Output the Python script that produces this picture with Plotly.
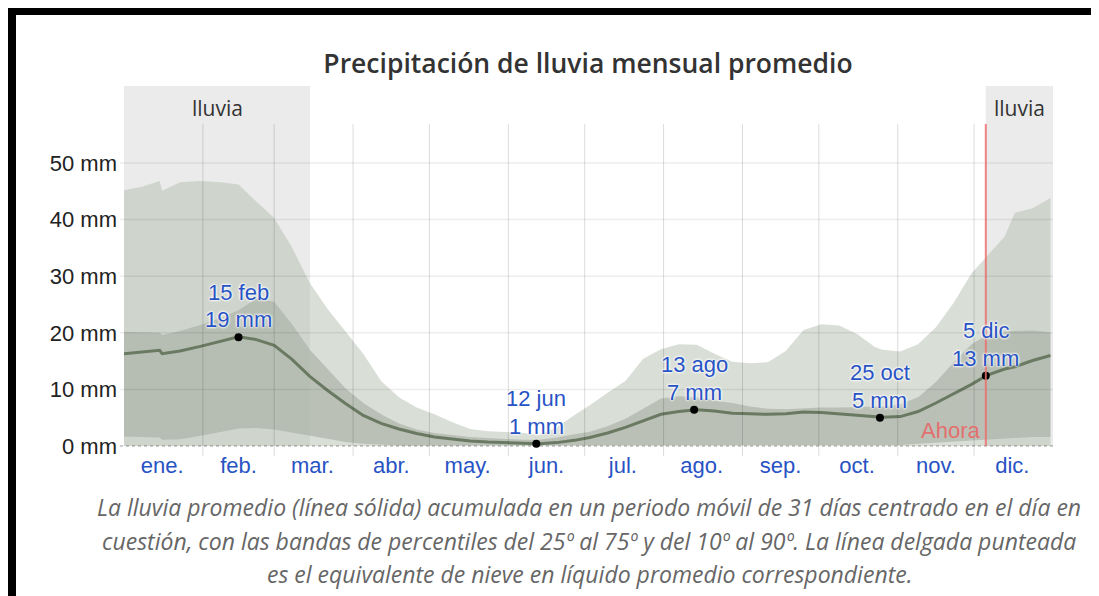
import plotly.graph_objects as go

# ---------------- data ----------------
days = [0, 7, 14, 15, 22, 30, 38, 45, 52, 59, 66, 73, 80, 87, 94, 101, 108, 115, 122,
        129, 136, 143, 150, 157, 163, 170, 177, 183, 190, 197, 204, 211, 218, 225, 232,
        239, 246, 253, 260, 267, 274, 281, 288, 295, 298, 305, 312, 319, 326, 333, 339,
        346, 350, 357, 364]

mean = [16.3, 16.6, 16.9, 16.3, 16.8, 17.6, 18.5, 19.3, 18.8, 17.8, 15.3, 12.3, 9.8, 7.5,
        5.4, 4.0, 3.0, 2.2, 1.6, 1.2, 0.9, 0.7, 0.6, 0.5, 0.4, 0.6, 1.0, 1.5, 2.3, 3.3,
        4.4, 5.6, 6.1, 6.4, 6.2, 5.8, 5.7, 5.6, 5.7, 6.0, 5.9, 5.7, 5.5, 5.2, 5.1, 5.2,
        6.1, 7.6, 9.2, 10.9, 12.5, 13.6, 14.0, 15.1, 16.0]

p90 = [45.2, 45.8, 46.8, 45.1, 46.6, 46.8, 46.6, 46.2, 43.2, 40.3, 35.1, 28.8, 24.2, 20.3,
       16.3, 11.5, 8.6, 6.8, 5.6, 4.2, 3.0, 2.6, 2.4, 2.3, 1.9, 3.3, 5.5, 7.2, 9.4, 11.5,
       15.4, 17.1, 18.0, 17.9, 16.3, 14.9, 14.6, 14.8, 16.8, 20.5, 21.5, 21.3, 19.8, 17.5,
       17.0, 16.7, 18.0, 21.0, 25.3, 30.5, 33.5, 37.0, 41.2, 42.0, 43.8]

p75 = [20.2, 20.1, 20.0, 19.6, 20.3, 21.4, 22.6, 24.0, 26.0, 25.5, 21.5, 17.0, 13.5, 10.2,
       7.6, 5.6, 4.0, 2.9, 2.3, 1.9, 1.6, 1.4, 1.2, 1.1, 1.1, 1.5, 2.1, 2.5, 3.5, 4.8,
       6.6, 8.4, 8.8, 8.6, 8.0, 7.6, 7.0, 6.6, 6.5, 6.7, 6.8, 6.8, 6.9, 7.0, 7.0, 7.4,
       8.6, 11.3, 14.8, 18.0, 19.6, 20.1, 20.3, 20.4, 20.1]

p25 = [1.7, 1.6, 1.5, 1.1, 1.2, 1.8, 2.5, 3.1, 3.2, 2.9, 2.4, 1.8, 1.2, 0.7, 0.4, 0.2,
       0.1, 0.1, 0.1, 0.1, 0.1, 0.1, 0.1, 0.1, 0.1, 0.1, 0.1, 0.1, 0.1, 0.1, 0.1, 0.1,
       0.1, 0.1, 0.1, 0.1, 0.1, 0.1, 0.1, 0.1, 0.1, 0.1, 0.1, 0.1, 0.1, 0.2, 0.4, 0.6,
       0.8, 1.0, 1.1, 1.3, 1.5, 1.6, 1.6]

p10 = [0.0] * len(days)

month_mid_days = [15, 45, 74, 105, 135, 166, 196, 227, 258, 288, 319, 349]
month_labels = ["ene.", "feb.", "mar.", "abr.", "may.", "jun.", "jul.", "ago.",
                "sep.", "oct.", "nov.", "dic."]
month_start_days = [31, 59, 90, 120, 151, 181, 212, 243, 273, 304, 334]
y_ticks = [0, 10, 20, 30, 40, 50]
y_tick_labels = ["0 mm", "10 mm", "20 mm", "30 mm", "40 mm", "50 mm"]

marker_days = [45, 162, 224, 297, 338.6]
marker_vals = [19.2, 0.4, 6.4, 5.0, 12.4]
marker_dates = ["15 feb", "12 jun", "13 ago", "25 oct", "5 dic"]
marker_amounts = ["19 mm", "1 mm", "7 mm", "5 mm", "13 mm"]

wet_seasons = [(0, 73.1), (338.6, 365)]
now_day = 338.6

title_text = "Precipitación de lluvia mensual promedio"
caption_lines = [
    "La lluvia promedio (línea sólida) acumulada en un periodo móvil de 31 días centrado en el día en",
    "cuestión, con las bandas de percentiles del 25º al 75º y del 10º al 90º. La línea delgada punteada",
    "es el equivalente de nieve en líquido promedio correspondiente.",
]

# ---------------- layout geometry ----------------
# the page body adds an 8px margin, so the figure is drawn 8px smaller/shifted
OFF = 8
W, H = 1099 - OFF, 596 - OFF
L, R, T, B = 124 - OFF, 1053 - OFF, 86 - OFF, 457 - OFF
YMIN, YMAX = -1.94, 63.6


def xp(px_ref):
    return (px_ref - OFF - L) / (R - L)


def yp(py_ref):
    return (B - (py_ref - OFF)) / (B - T)


BLUE = "#2853c4"
fig = go.Figure()

# 10-90 band
fig.add_trace(go.Scatter(x=days, y=p10, mode="lines", line=dict(width=0),
                         hoverinfo="skip", showlegend=False))
fig.add_trace(go.Scatter(x=days, y=p90, mode="lines", line=dict(width=0),
                         fill="tonexty", fillcolor="rgba(182,191,178,0.52)",
                         hoverinfo="skip", showlegend=False))
# 25-75 band
fig.add_trace(go.Scatter(x=days, y=p25, mode="lines", line=dict(width=0),
                         hoverinfo="skip", showlegend=False))
fig.add_trace(go.Scatter(x=days, y=p75, mode="lines", line=dict(width=0),
                         fill="tonexty", fillcolor="rgba(166,174,162,0.62)",
                         hoverinfo="skip", showlegend=False))
# mean
fig.add_trace(go.Scatter(x=days, y=mean, mode="lines",
                         line=dict(color="#6a7a62", width=3), showlegend=False))
# marked points
fig.add_trace(go.Scatter(x=marker_days, y=marker_vals, mode="markers",
                         marker=dict(color="black", size=8), showlegend=False))

shapes = []
# wet season bands
for a, b in wet_seasons:
    shapes.append(dict(type="rect", xref="x", yref="paper", x0=a, x1=b, y0=yp(446), y1=1,
                       fillcolor="#ebebeb", line=dict(width=0), layer="below"))
# horizontal grid
for v in y_ticks[1:]:
    shapes.append(dict(type="line", xref="paper", yref="y", x0=xp(120), x1=1, y0=v, y1=v,
                       line=dict(color="rgba(0,0,0,0.07)", width=1.5), layer="above"))
# month separators
for d in month_start_days:
    shapes.append(dict(type="line", xref="x", yref="y", x0=d, x1=d, y0=-1.8, y1=56.9,
                       line=dict(color="rgba(0,0,0,0.14)", width=1), layer="above"))
# zero dotted line
shapes.append(dict(type="line", xref="paper", yref="y", x0=xp(120), x1=1, y0=0, y1=0,
                   line=dict(color="rgba(0,0,0,0.4)", width=1, dash="dot"), layer="above"))
# now line
shapes.append(dict(type="line", xref="x", yref="y", x0=now_day, x1=now_day, y0=0, y1=56.9,
                   line=dict(color="rgba(235,110,110,0.85)", width=2), layer="above"))
# frame
shapes.append(dict(type="rect", xref="paper", yref="paper", x0=xp(8), x1=xp(16),
                   y0=yp(600), y1=yp(8), fillcolor="black", line=dict(width=0)))
shapes.append(dict(type="rect", xref="paper", yref="paper", x0=xp(8), x1=xp(1105),
                   y0=yp(15), y1=yp(8), fillcolor="black", line=dict(width=0)))

annotations = []
halo = "0px 0px 3px #ffffff, 0px 0px 3px #ffffff, 0px 0px 2px #ffffff"
for d, v, t1, t2 in zip(marker_days, marker_vals, marker_dates, marker_amounts):
    annotations.append(dict(x=d, y=v, xref="x", yref="y", text=t2, showarrow=False,
                            yanchor="middle", yshift=17.5,
                            font=dict(family="Liberation Sans, Arial", size=22, color=BLUE,
                                      shadow=halo)))
    annotations.append(dict(x=d, y=v, xref="x", yref="y", text=t1, showarrow=False,
                            yanchor="middle", yshift=45,
                            font=dict(family="Liberation Sans, Arial", size=22, color=BLUE,
                                      shadow=halo)))
# Ahora
annotations.append(dict(x=now_day, y=0, xref="x", yref="y", text="Ahora", showarrow=False,
                        xanchor="right", yanchor="middle", xshift=-4, yshift=16,
                        font=dict(family="Liberation Sans, Arial", size=22, color="#e46f6f")))
# lluvia labels
for a, b in wet_seasons:
    annotations.append(dict(x=(a + b) / 2, y=yp(108), xref="x", yref="paper", text="lluvia",
                            showarrow=False, yanchor="middle",
                            font=dict(family="Open Sans", size=21, color="#333333")))
# caption
for i, line in enumerate(caption_lines):
    annotations.append(dict(x=xp(589), y=yp(507 + 33.5 * i), xref="paper", yref="paper",
                            text=line, showarrow=False, yanchor="middle", xanchor="center",
                            font=dict(family="Open Sans", size=23, color="#666666",
                                      style="italic")))

fig.update_layout(
    width=W, height=H,
    margin=dict(l=L, r=W - R, t=T, b=H - B, pad=0),
    paper_bgcolor="white", plot_bgcolor="white",
    title=dict(text=title_text, x=(588 - OFF) / W, xanchor="center", xref="container",
               y=1 - (64 - OFF) / H, yanchor="middle", yref="container",
               font=dict(family="Open Sans", size=26.5, color="#333333", weight=600)),
    xaxis=dict(range=[0, 365], showgrid=False, zeroline=False, showline=False,
               tickmode="array", tickvals=month_mid_days, ticktext=month_labels,
               ticks="", ticklabelstandoff=-7,
               tickfont=dict(family="Liberation Sans, Arial", size=22, color=BLUE),
               fixedrange=True),
    yaxis=dict(range=[YMIN, YMAX], showgrid=False, zeroline=False, showline=False,
               tickmode="array", tickvals=y_ticks, ticktext=y_tick_labels, ticks="",
               ticklabelstandoff=6,
               tickfont=dict(family="Liberation Sans, Arial", size=22, color="#222222"),
               fixedrange=True),
    shapes=shapes, annotations=annotations, showlegend=False,
)

fig.write_html("out.html")
